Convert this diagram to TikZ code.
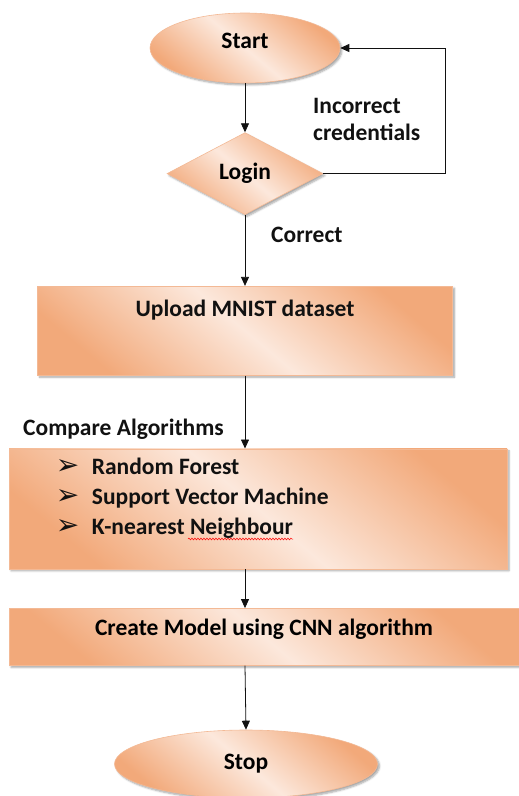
\documentclass[tikz,border=0pt]{standalone}
\usepackage{fontspec}
\setmainfont{Carlito}
\newfontfamily\dingfont{DejaVu Sans}
\usetikzlibrary{arrows.meta,positioning,shapes.geometric,shadows.blur,decorations.pathmorphing}
\definecolor{flowpeach}{HTML}{F2A97A}
\definecolor{flowcream}{HTML}{FCE8DC}
\definecolor{flowedge}{HTML}{F3B995}
\definecolor{flowink}{HTML}{111111}
\tikzset{
  >={Triangle[length=9pt,width=8pt]},
  softshadow/.style={blur shadow={shadow blur steps=5,shadow xshift=2pt,
                     shadow yshift=-2pt,shadow opacity=35}},
  peachfill/.style={top color=flowpeach,bottom color=flowpeach,
                    middle color=flowcream,shading angle=-40},
  termnode/.style={ellipse,draw=flowedge,line width=0.6pt,peachfill,softshadow,
                   inner sep=0pt},
  decnode/.style={diamond,draw=flowedge,line width=0.6pt,peachfill,softshadow,
                  inner sep=0pt},
  procnode/.style={rectangle,draw=flowedge,line width=0.6pt,peachfill,softshadow,
                   inner sep=0pt},
  txtnode/.style={inner sep=0pt,align=left,text=flowink},
  flowarrow/.style={->,line width=0.8pt,draw=flowink},
}

\begin{document}
\begin{tikzpicture}[x=1pt,y=-1pt,font=\fontsize{23.5}{27}\selectfont\bfseries]
  \useasboundingbox (0,0) rectangle (519,796);
  \node[termnode,minimum width=190pt,minimum height=70pt,text depth=14pt] (start) at (245,48) {Start};
  \node[decnode,below=49pt of start,minimum width=156pt,minimum height=82pt] (login) {Login};
  \node[procnode,below=71pt of login,minimum width=415pt,minimum height=89pt] (upload) {};
  \node[txtnode,below=14pt of upload.north] (uploadtxt) {Upload MNIST dataset};
  \node[procnode,below=73pt of upload,xshift=13pt,minimum width=498pt,minimum height=120pt] (cmp) {};
  \node[txtnode,below right=9pt and 47pt of cmp.north west,
        font=\fontsize{23.5}{30}\selectfont\bfseries] (algos)
    {\makebox[36pt][l]{\dingfont\fontsize{28}{30}\selectfont ➢}Random Forest\\
     \makebox[36pt][l]{\dingfont\fontsize{28}{30}\selectfont ➢}Support Vector Machine\\
     \makebox[36pt][l]{\dingfont\fontsize{28}{30}\selectfont ➢}K-nearest Neighbour};
  \node[procnode,below=39pt of cmp,xshift=6pt,minimum width=510pt,minimum height=57pt,text depth=19pt] (create) {Create Model using CNN algorithm};
  \node[termnode,below=64pt of create,xshift=-18pt,minimum width=263pt,minimum height=68pt] (stop) {Stop};

  % labels on the connectors
  \node[txtnode,anchor=north west] (wrong) at (313,98) {Incorrect\\credentials};
  \node[txtnode,anchor=west] (right) at (271,235) {Correct};
  \node[txtnode,anchor=west] (cmplbl) at (23,429) {Compare Algorithms};

  \coordinate (axis) at (start.south);
  \coordinate (loopc) at (445,48);
  \draw[flowarrow] (start.south) -- (login.north);
  \draw[flowarrow] (login.east) -| (loopc) -- (start.east);
  \draw[flowarrow] (login.south) -- (axis |- upload.north);
  \draw[flowarrow] (axis |- upload.south) -- (axis |- cmp.north);
  \draw[flowarrow] (axis |- cmp.south) -- (axis |- create.north);
  \draw[flowarrow] (axis |- create.south) -- (stop.north);
  \draw[red,line width=0.5pt,decorate,decoration={snake,amplitude=0.9pt,segment length=3pt}]
    (188,539) -- (293,539);
\end{tikzpicture}
\end{document}
